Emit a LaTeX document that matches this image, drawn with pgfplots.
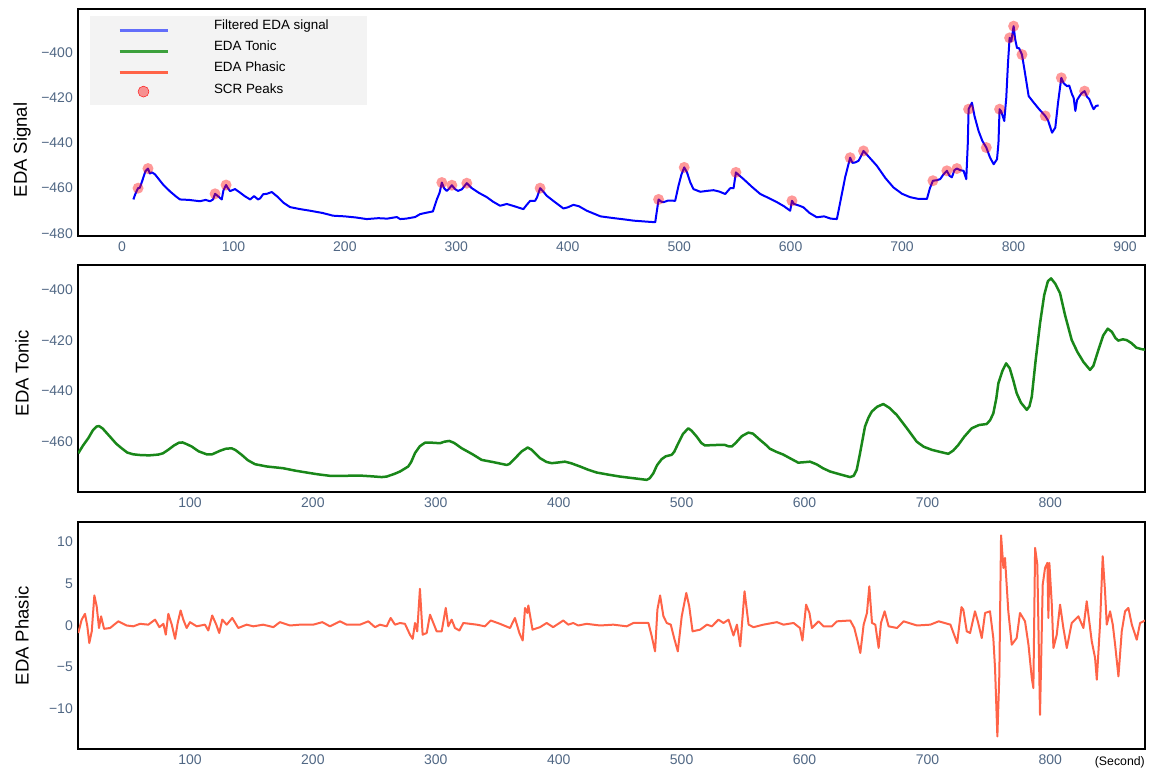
\documentclass[border=0pt]{standalone}
\usepackage{pgfplots}
\pgfplotsset{compat=1.18}
\usepackage{fontspec}
\setmainfont{Liberation Sans}

\definecolor{tickcol}{RGB}{80,103,132}
\definecolor{sigblue}{RGB}{0,0,255}
\definecolor{tonicgreen}{RGB}{25,135,25}
\definecolor{phasicred}{RGB}{255,99,71}
\definecolor{legblue}{RGB}{99,110,250}
\definecolor{leggreen}{RGB}{60,160,60}
\definecolor{legred}{RGB}{255,99,71}
\definecolor{legbg}{RGB}{243,243,243}

\pgfplotsset{
  panel/.style={
    scale only axis, width=1067pt, height=227pt,
    axis line style={black, line width=1.8pt},
    major tick length=0pt, tick style={draw=none},
    ticklabel style={font=\fontsize{14}{16}\selectfont, text=tickcol, inner sep=0pt},
    /pgf/number format/assume math mode=true,
    xticklabel style={yshift=-6pt},
    yticklabel style={xshift=-5pt},
    every axis y label/.style={at={(axis description cs:-0.0525,0.5)}, rotate=90,
      anchor=center, font=\fontsize{18.5}{20}\selectfont},
    every axis plot/.append style={line join=round},
  }
}

\begin{document}
\begin{tikzpicture}
\useasboundingbox (0,0) rectangle (1149pt,-771pt);

% ---------- panel 1: filtered signal + peaks ----------
\begin{axis}[panel, at={(78pt,-9pt)}, anchor=north west,
    xmin=-39.5, xmax=918, ymin=-481.2, ymax=-380.6,
    xtick={0,100,...,900},
    ytick={-480,-460,-440,-420,-400},
    yticklabels={−480,−460,−440,−420,−400},
    ylabel={EDA Signal},
    ylabel style={at={(axis description cs:-0.0525,0.379)}},
    legend cell align=left,
    legend image code/.code={\draw[#1] (0pt,-4.5pt) -- (48pt,-4.5pt);},
    legend style={at={(rel axis cs:0.0375,0.955)}, anchor=north west,
      draw=none, fill=none, inner sep=0pt, outer sep=0pt,
      column sep=45pt, row sep=8.3pt,
      nodes={inner sep=0pt, text height=10pt, text depth=3pt,
        font=\fontsize{13.4}{15}\selectfont}},
  ]
  \fill[legbg] (rel axis cs:0.01125,0.577) rectangle (rel axis cs:0.2709,0.969);

  \addlegendimage{legblue, line width=3pt}
  \addlegendentry{Filtered EDA signal}
  \addlegendimage{leggreen, line width=3pt}
  \addlegendentry{EDA Tonic}
  \addlegendimage{legred, line width=3pt}
  \addlegendentry{EDA Phasic}
  \addlegendimage{legend image code/.code={\fill[red, fill opacity=0.4] (24pt,-2pt) circle (5.5pt);}}
  \addlegendentry{SCR Peaks}

  \addplot[sigblue, line width=2pt, forget plot] coordinates {
    (10.2,-465) (12,-462.5) (14.4,-460) (16,-459.8) (18,-457) (21,-452.5)
    (23.3,-451.3) (25,-453.5) (27,-453) (29.6,-453.9) (33,-456) (37,-458.5)
    (43,-461.4) (48,-463.5) (52,-465) (60,-465.2) (70,-465.8) (75,-465.2)
    (79,-465.8) (81.7,-465) (83.5,-462.5) (86,-463.5) (89.5,-465) (91,-461)
    (93.4,-458.6) (95,-460) (97,-461.3) (101.4,-460.4) (106,-462) (110,-463.5)
    (115,-465) (118.5,-463.5) (122,-465) (124,-464.5) (126.6,-462.7) (130,-462.5)
    (134.4,-461.7) (140,-464) (145,-466.5) (150.8,-468.4) (160,-469.3) (168.8,-470)
    (180,-471) (189.4,-472.2) (200,-472.5) (210,-473) (219.6,-473.7) (230,-473.3)
    (238,-473.5) (246.6,-472.8) (249.6,-473.7) (255,-473.5) (263,-472.8) (267.5,-471.5)
    (272,-471) (279,-470.3) (282.5,-465) (285,-462) (287,-457.5) (289,-460)
    (291.4,-461.2) (293,-460.5) (296,-458.7) (299,-460.5) (301.6,-461.2) (305,-460.5)
    (309.4,-457.8) (313.9,-460) (320,-462) (327.4,-464) (333,-466) (339.3,-467.8)
    (345.3,-467) (352,-468) (360.2,-469.3) (363,-467.5) (366.3,-465.6) (370.7,-465.6)
    (372.5,-464) (375.2,-460) (378,-461.5) (381.2,-463.4) (388,-466) (396.1,-469)
    (400,-468.5) (405,-467.4) (410,-468) (417.1,-470) (429.4,-472.5) (440,-473.2)
    (450,-473.8) (459.2,-474.4) (470,-474.8) (478.5,-475.1) (480,-470) (481.5,-465)
    (484,-466) (486,-466.2) (490,-465.5) (496.4,-465.6) (499.4,-458.9) (502,-454)
    (504.5,-450.8) (507,-453) (510,-457.5) (512.8,-460.4) (518.9,-461.6) (525,-461.2)
    (530.8,-460.9) (536,-461.5) (541.3,-462.6) (545.8,-460) (548.8,-460) (550.9,-453)
    (553,-454) (557.8,-456) (565,-459.3) (572.8,-462.6) (580,-464.3) (587.7,-466.2)
    (594,-468) (599.6,-470) (601.2,-465.6) (603,-467) (608,-467.8) (611.5,-468.5)
    (617,-471) (623.5,-472.9) (630,-472.5) (636,-473.5) (641.5,-473.7) (645,-465)
    (649,-455) (653.4,-446.5) (655.5,-448.8) (657.9,-448.6) (660.9,-447.9) (663,-446)
    (665.4,-443.5) (670,-446) (677.4,-450.1) (685,-455.5) (692.3,-459.7) (700,-462.5)
    (707.3,-464) (715,-464.8) (722.3,-464.8) (725,-460) (727.7,-456.7) (731,-456.5)
    (734.2,-456) (737,-454) (740.2,-452.3) (742.5,-454.5) (744.7,-455.2) (747,-452)
    (749.2,-451.3) (752,-452) (755.2,-452.3) (757.6,-456) (759,-440) (759.7,-425)
    (762.7,-422.1) (765,-428) (768.6,-434.6) (772,-439) (775.6,-442) (779,-446.5)
    (782.2,-449.4) (785.2,-447.2) (786.5,-440) (787.5,-425) (789,-426) (791.7,-430.2)
    (793.5,-420) (795,-405) (796.5,-393.4) (798,-395) (800.1,-388.2) (801.5,-394)
    (803.1,-397.8) (805,-398) (807.6,-400.8) (810,-408) (813.6,-419.2) (818,-422)
    (823,-425) (828.5,-428) (831,-430) (834.6,-435.4) (837.5,-433.2) (840,-422)
    (842.9,-411.1) (845,-413.5) (848,-414.8) (850,-414.5) (852.5,-418.4) (854,-420)
    (855.5,-425.8) (857,-421) (859.3,-419.2) (861,-418) (863.8,-417) (866,-419.5)
    (868,-420.5) (870,-423) (871.9,-425) (874,-423.6) (876.4,-423.3)
  };

  \addplot[red, draw opacity=0, only marks, mark=*, mark size=5.5pt, forget plot,
      mark options={fill=red, fill opacity=0.4, draw opacity=0}] coordinates {
    (14.4,-460) (23.3,-451.3) (83.5,-462.5) (93.4,-458.6) (287,-457.5) (296,-458.7)
    (309.4,-457.8) (375.2,-460) (481.5,-465) (504.5,-450.8) (550.9,-453) (601.2,-465.6)
    (653.4,-446.5) (665.4,-443.5) (727.7,-456.7) (740.2,-452.3) (749.2,-451.3)
    (759.7,-425) (775.6,-442) (787.5,-425) (796.5,-393.4) (800.1,-388.2)
    (807.6,-400.8) (828.5,-428) (842.9,-411.1) (863.8,-417)
  };
\end{axis}

% ---------- panel 2: tonic ----------
\begin{axis}[panel, at={(78pt,-265pt)}, anchor=north west,
    xmin=8.9, xmax=877, ymin=-479.9, ymax=-390.1,
    xtick={100,200,...,800},
    ytick={-460,-440,-420,-400},
    yticklabels={−460,−440,−420,−400},
    ylabel={EDA Tonic},
    ylabel style={at={(axis description cs:-0.0525,0.524)}},
  ]
  \addplot[tonicgreen, line width=2.5pt] coordinates {
    (9.1,-464.6) (13,-461.5) (17.3,-458.6) (21,-455.5) (24,-454) (26,-453.8)
    (29,-454.8) (34.9,-458) (40,-460.8) (44.4,-462.6) (49,-464.3) (53.9,-465)
    (60,-465.3) (67,-465.4) (74.2,-465.1) (78,-464.6) (82.3,-463.2) (87,-461.5)
    (91,-460.4) (94,-460.3) (97,-460.9) (101.4,-461.9) (107,-463.8) (113.6,-465)
    (118,-465) (124.4,-463.6) (129,-462.8) (133.9,-462.6) (137,-463.3) (142.1,-465.2)
    (147,-467.3) (152.9,-468.9) (162.4,-469.8) (175.9,-470.5) (185,-471.4) (194.9,-472.2)
    (204,-472.9) (213.9,-473.5) (225,-473.5) (238.3,-473.4) (248,-473.7) (256,-474)
    (260,-473.8) (266,-472.8) (270.9,-471.8) (277.6,-469.8) (280,-468) (283.1,-464.5)
    (287,-461.8) (291.2,-460.4) (297,-460.4) (303.4,-460.6) (307,-460) (311,-459.7)
    (315,-460.5) (321.1,-462.6) (330,-465) (337.3,-467.2) (347,-468.1) (357.7,-469.2)
    (360,-468.8) (365.8,-465.9) (370,-463.8) (374.8,-462.3) (378,-463.2) (384.8,-466.5)
    (390,-468) (394.3,-468.5) (400,-468.2) (405.1,-467.9) (410,-468.5) (417.3,-469.8)
    (424,-471.1) (430.9,-472.2) (440,-473) (449.9,-473.8) (460,-474.4) (471.6,-475.1)
    (474,-474.5) (477,-472.5) (480,-469.3) (483.8,-466.9) (487,-465.8) (491.9,-465.2)
    (494,-464) (497.3,-460.6) (501,-457) (505.4,-454.7) (508,-455.6) (512.3,-458)
    (516,-460.5) (519,-461.5) (523,-461.4) (528.5,-461.3) (535.3,-461.3) (538,-461.8)
    (540.8,-461.9) (544,-460.5) (549,-457.8) (554.3,-456.4) (558,-456.8) (563.8,-459.3)
    (568,-461) (571.9,-462.8) (577,-464) (582.7,-465.1) (588,-466.5) (594.9,-468.3)
    (600,-468.1) (604.5,-467.9) (610,-469) (615,-470.5) (620.8,-471.8) (628,-472.8)
    (637,-474) (640,-473.5) (642.5,-471.1) (645,-465) (649.2,-454) (652,-450.5)
    (654.7,-448.1) (659,-446.2) (664.1,-445.1) (669,-446.6) (675,-449.4) (683,-454.5)
    (691.3,-460) (697,-462) (703.5,-463.2) (710,-464) (717,-464.8) (721,-463.5)
    (725.1,-461.3) (730,-458) (736,-454.7) (742,-453.4) (748.2,-453) (751,-451.5)
    (753.6,-448.8) (756,-443) (757.7,-436.9) (761,-432) (764,-429) (767,-431)
    (770,-436) (772.6,-440.8) (776,-444.5) (780.8,-447.4) (783,-446) (784.9,-442.2)
    (788,-428) (791.6,-413.2) (795,-402) (798,-396.5) (800.6,-395.4) (804,-397.5)
    (807.9,-401.3) (812,-410) (817.4,-419.8) (822,-424.5) (827,-428.5) (832.3,-431.6)
    (835,-430) (839.1,-423.7) (843,-418) (846.7,-415.3) (850,-416.5) (853,-419)
    (855.3,-420) (859,-419.5) (862.1,-419.8) (866,-421) (870,-422.8) (874.3,-423.4)
    (877,-423.6)
  };
\end{axis}

% ---------- panel 3: phasic ----------
\begin{axis}[panel, at={(78pt,-522pt)}, anchor=north west,
    xmin=8.9, xmax=877, ymin=-14.8, ymax=12.4,
    xtick={100,200,...,800},
    ytick={-10,-5,0,5,10},
    yticklabels={−10,−5,0,5,10},
    ylabel={EDA Phasic},
    ylabel style={at={(axis description cs:-0.0525,0.498)}},
    xlabel={(Second)},
    every axis x label/.style={at={(axis description cs:1,0)}, anchor=north east,
      yshift=-7pt, inner sep=0pt, font=\fontsize{12.3}{14}\selectfont},
  ]
  \addplot[phasicred, line width=2pt] coordinates {
    (9.1,-0.9) (11.9,0.7) (14.6,1.4) (16.5,-0.1) (18.1,-2.1) (20.1,-0.7) (22.2,3.6)
    (24.1,2.3) (26,-0.3) (27.7,1.1) (30.1,-0.4) (35,-0.3) (41.7,0.5) (48.5,0)
    (53.9,-0.1) (59.4,0.2) (66.1,0.1) (71.6,0.7) (75.1,-0.2) (78.4,0.2) (80.3,-1.1)
    (82.4,1.4) (85.2,0.1) (87.9,-1.6) (90,0.3) (92.4,1.8) (94.6,0.7) (97.3,-0.3)
    (100,0.4) (105.5,-0.1) (112.2,0.1) (114.9,-0.6) (118.1,1.2) (121.4,0.1) (123.8,-0.9)
    (126.3,0.7) (129.9,0.1) (134.4,0.9) (139.3,-0.3) (146.1,0.1) (151.5,-0.1) (159.6,0.1)
    (167.8,-0.2) (173.2,0.4) (181.4,0) (189.5,0.1) (200.3,0.1) (207.7,0.4) (213.9,-0.1)
    (222,0.5) (227.5,0.1) (238.3,0.1) (245.1,0.5) (250.5,-0.2) (254.6,0.1) (260,-0.1)
    (263.3,0.9) (266.8,0.1) (270.9,0.3) (274.9,0.2) (279,-1.1) (281.2,-1.6) (283.1,0.3)
    (284.9,-0.7) (287.1,4.4) (289.3,-1.1) (292.6,-0.9) (295.3,1.3) (298,0.3) (300.7,-0.7)
    (304.8,-0.7) (308.1,2.1) (310.2,-0.1) (312.9,0.7) (315.6,-0.3) (319.2,-0.6) (322.4,0.3)
    (333.3,0.1) (340,-0.1) (344.7,0.6) (352.2,0.2) (360.4,-0.3) (364.4,0.9) (368,-0.9)
    (370.7,-1.8) (372.6,2.1) (374.5,1.5) (375.3,2.4) (378.7,-0.5) (384.8,-0.2) (390.2,0.3)
    (395.5,-0.2) (403.7,0.6) (407.8,0.1) (411.8,0.3) (415.9,0) (422.7,0.2) (433.6,0)
    (444.5,0.1) (455.3,-0.1) (460.8,0.3) (473,0.3) (475.7,-1.3) (478.4,-3.1) (480.3,1.9)
    (482.5,3.6) (485.2,1.1) (487.9,0.3) (491.2,0.1) (493.9,-1.5) (496.9,-3.1) (500.1,1.1)
    (503.8,3.9) (506.2,2.3) (508.9,-0.7) (515.1,-0.5) (520.6,0.1) (524.6,-0.1) (530,0.7)
    (534.1,0.3) (538.2,0.7) (542.2,-1.2) (545,0.1) (547.7,-2.5) (551.2,4.1) (554.5,0.1)
    (558.5,-0.2) (566.6,0.1) (577.5,0.4) (582.9,0.1) (591.1,0.3) (596.3,-0.3) (598.3,-1.8)
    (601.3,2.5) (604,1.5) (606,-0.3) (611.4,0.5) (615.5,-0.1) (622.3,-0.1) (626.4,0.5)
    (637.2,0.6) (640.5,-0.3) (643.2,-1.9) (645.4,-3.3) (648.1,0.1) (650.8,1.5) (652.7,4.7)
    (654.9,0.3) (657.6,0.1) (660.3,-2.7) (662.2,0.3) (665.2,1.7) (668.4,-0.1) (675.3,-0.3)
    (680.6,0.5) (691.5,0) (702.4,0.1) (709.2,0.5) (718.7,0.1) (724.2,-2.1) (727.7,2.2)
    (729.2,1.9) (732,-0.7) (734.7,-0.9) (738.7,1.7) (741,0.5) (744.2,-1.5) (746.9,1.5)
    (750.9,1.7) (753.6,-1.5) (755,-5.1) (756.9,-13.3) (758.5,-5.9) (759.9,10.8)
    (761.8,6.9) (763.1,8.1) (765.8,1.7) (768.6,-2.3) (772.6,-1.5) (775.3,1.5) (779.4,0.5)
    (782.2,-2.3) (784.9,-6.3) (786.2,-7.5) (787.6,9.3) (789.4,7.3) (791.6,-10.7)
    (793.8,4.9) (795.7,6.9) (797.6,7.5) (798.4,0.9) (799.2,7.5) (801.2,2.5) (802.5,-2.7)
    (805.2,-1.1) (807.9,2.5) (810.6,-0.3) (813.4,-2.7) (817.4,0.3) (822.8,1.1)
    (826.9,-0.3) (829.6,2.9) (833.7,-1.9) (836.4,-3.9) (837.8,-6.5) (840.4,0.1)
    (842.6,8.3) (844.5,4.1) (845.9,0.1) (848.6,1.7) (850.8,0.1) (852.7,-2.3) (855.4,-6.1)
    (858.1,-0.7) (860.8,1.7) (863.5,2.1) (866.3,0.1) (870.3,-1.7) (873,0.3) (875.7,0.5)
    (877,0.6)
  };
\end{axis}
\end{tikzpicture}
\end{document}
